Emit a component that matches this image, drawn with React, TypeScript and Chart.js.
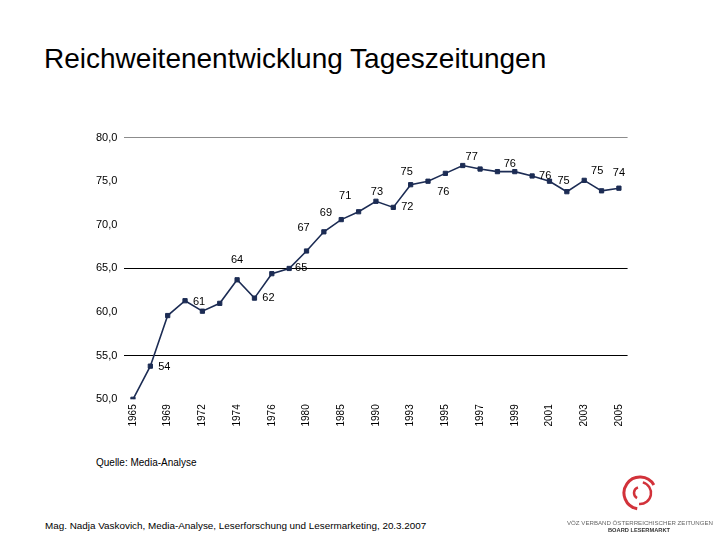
import { useEffect, useRef } from "react";
import { Chart, registerables } from "chart.js";

Chart.register(...registerables);

// Erhebungsjahre (nur jedes zweite wird beschriftet)
const years = [
  "1965", "1967", "1969", "1971", "1972", "1973", "1974", "1975", "1976", "1978",
  "1980", "1983", "1985", "1988", "1990", "1992", "1993", "1994", "1995", "1996",
  "1997", "1998", "1999", "2000", "2001", "2002", "2003", "2004", "2005",
];

// Reichweite Tageszeitungen in %
const reach = [
  50.0, 53.8, 59.6, 61.3, 60.1, 61.0, 63.7, 61.6, 64.4, 65.0,
  67.0, 69.2, 70.6, 71.5, 72.7, 72.0, 74.6, 75.0, 75.9, 76.8,
  76.4, 76.1, 76.1, 75.6, 75.0, 73.8, 75.1, 73.9, 74.2,
];

const yTicks = [50, 55, 60, 65, 70, 75, 80];

// which points get a value label, and where it sits relative to the marker
const labelOffsets: Record<number, [number, number]> = {
  1: [14, 1],
  3: [14, 1],
  6: [0, -20],
  7: [14, 0],
  9: [12, 0],
  10: [-3, -23],
  11: [2, -19],
  12: [4, -24],
  14: [1, -9],
  15: [14, 0],
  16: [-4, -13],
  18: [-2, 19],
  19: [9, -9],
  22: [-5, -8],
  23: [13, 0],
  24: [14, 0],
  26: [13, -9],
  28: [0, -15],
};

const FONT = '"Liberation Sans", Arial, sans-serif';
const LINE = "#1c2c54";

const valueLabels = {
  id: "valueLabels",
  afterDatasetsDraw(chart: any) {
    const meta = chart.getDatasetMeta(0);
    const ctx = chart.ctx;
    ctx.save();
    ctx.font = `11px ${FONT}`;
    ctx.fillStyle = "#000";
    ctx.textAlign = "center";
    ctx.textBaseline = "middle";
    Object.entries(labelOffsets).forEach(([k, [dx, dy]]) => {
      const i = Number(k);
      const pt = meta.data[i];
      if (!pt) return;
      ctx.fillText(String(Math.round(reach[i])), pt.x + dx, pt.y + dy);
    });
    ctx.restore();
  },
};

function ReachChart() {
  const canvasRef = useRef<HTMLCanvasElement>(null);

  useEffect(() => {
    if (!canvasRef.current) return;
    const chart = new Chart(canvasRef.current, {
      type: "line",
      data: {
        labels: years,
        datasets: [
          {
            data: reach,
            borderColor: LINE,
            backgroundColor: LINE,
            borderWidth: 1.6,
            tension: 0,
            pointStyle: "rect",
            pointRadius: 3,
            pointBorderWidth: 1,
            pointBorderColor: LINE,
            pointBackgroundColor: LINE,
          },
        ],
      },
      options: {
        animation: false,
        responsive: false,
        maintainAspectRatio: false,
        layout: { padding: { top: 0, right: 3, left: 0, bottom: 0 } },
        plugins: {
          legend: { display: false },
          tooltip: { enabled: false },
        },
        scales: {
          x: {
            offset: true,
            grid: { display: false, drawTicks: false },
            border: { display: false },
            afterFit: (s: any) => {
              s.height = 40.7;
            },
            ticks: {
              autoSkip: false,
              maxRotation: 90,
              minRotation: 90,
              padding: 5,
              color: "#000",
              font: { family: FONT, size: 10 },
              callback: (_v: any, i: number) => (i % 2 === 0 ? years[i] : ""),
            },
          },
          y: {
            min: 50,
            max: 80,
            afterFit: (s: any) => {
              s.width = 34.3;
            },
            afterBuildTicks: (s: any) => {
              s.ticks = yTicks.map((v) => ({ value: v }));
            },
            border: { display: false },
            grid: {
              drawTicks: false,
              lineWidth: 1,
              color: (c: any) => {
                const v = c.tick?.value;
                if (v === 80) return "#8c8c8c";
                if (v === 65 || v === 55) return "#000";
                return "rgba(0,0,0,0)";
              },
            },
            ticks: {
              padding: 7,
              color: "#000",
              font: { family: FONT, size: 11 },
              callback: (v: any) => Number(v).toFixed(1).replace(".", ","),
            },
          },
        },
      },
      plugins: [valueLabels],
    });
    return () => chart.destroy();
  }, []);

  return (
    <canvas
      ref={canvasRef}
      width={546}
      height={316}
      style={{ position: "absolute", left: 90, top: 124, width: 546, height: 316 }}
    />
  );
}

function Logo() {
  const red = "#d2323a";
  const cx = 640;
  const cy = 493;
  const arc = (r: number, a0: number, a1: number) => {
    const p = (a: number) => [cx + r * Math.cos((a * Math.PI) / 180), cy + r * Math.sin((a * Math.PI) / 180)];
    const [x0, y0] = p(a0);
    const [x1, y1] = p(a1);
    const large = a1 - a0 > 180 ? 1 : 0;
    return `M${x0},${y0} A${r},${r} 0 ${large} 1 ${x1},${y1}`;
  };
  return (
    <svg width={720} height={540} style={{ position: "absolute", left: 0, top: 0, pointerEvents: "none" }}>
      <path d={arc(16, 100, 330)} stroke={red} strokeWidth={3} fill="none" />
      <path d={arc(11, 285, 455)} stroke={red} strokeWidth={2.5} fill="none" />
      <path d={arc(6, 120, 250)} stroke={red} strokeWidth={2.5} fill="none" />
      <text x={567} y={525} fontFamily={FONT} fontSize={5.5} fill="#666" textLength={146} lengthAdjust="spacingAndGlyphs">
        VÖZ VERBAND ÖSTERREICHISCHER ZEITUNGEN
      </text>
      <text x={608} y={532} fontFamily={FONT} fontSize={5.5} fontWeight="bold" fill="#333" textLength={62} lengthAdjust="spacingAndGlyphs">
        BOARD LESERMARKT
      </text>
    </svg>
  );
}

export default function App() {
  return (
    <div
      style={{
        position: "absolute",
        left: 0,
        top: 0,
        width: 720,
        height: 540,
        background: "#fff",
        overflow: "hidden",
        fontFamily: FONT,
        color: "#000",
      }}
    >
      <div style={{ position: "absolute", left: 44, top: 45.3, fontSize: 28, lineHeight: 1, whiteSpace: "nowrap" }}>
        Reichweitenentwicklung Tageszeitungen
      </div>
      <ReachChart />
      <div style={{ position: "absolute", left: 96, top: 457.5, fontSize: 10, lineHeight: 1, whiteSpace: "nowrap" }}>
        Quelle: Media-Analyse
      </div>
      <div style={{ position: "absolute", left: 45, top: 520.5, fontSize: 9.9, lineHeight: 1, whiteSpace: "nowrap" }}>
        Mag. Nadja Vaskovich, Media-Analyse, Leserforschung und Lesermarketing, 20.3.2007
      </div>
      <Logo />
    </div>
  );
}
